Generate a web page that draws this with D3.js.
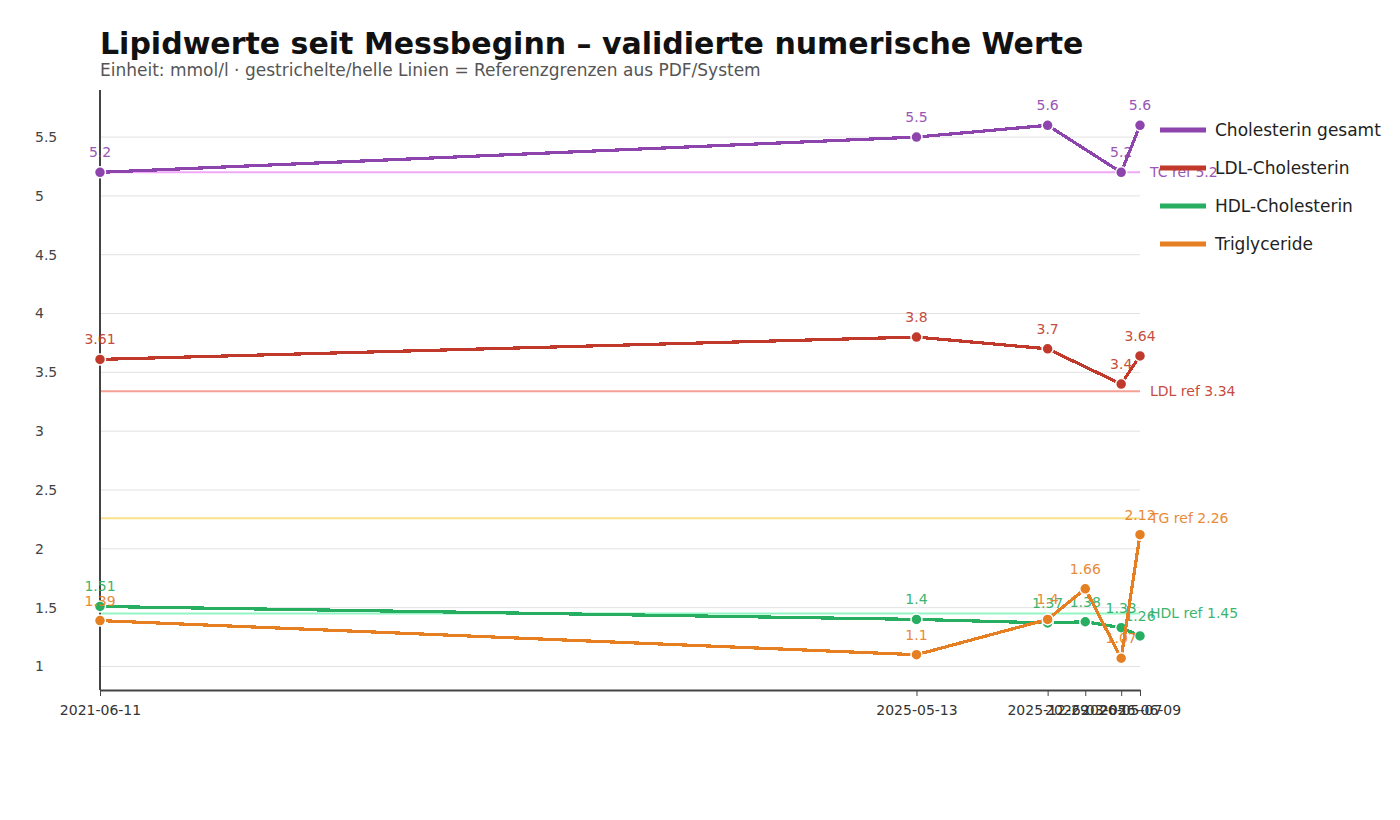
<!DOCTYPE html>
<html>
<head>
<meta charset="utf-8">
<script src="https://cdn.jsdelivr.net/npm/d3@7"></script>
<style>
  body { margin: 0; background: #fff; font-family: "DejaVu Sans", sans-serif; }
</style>
</head>
<body>
<script>
const width = 1400;
const height = 820;
const margin = { top: 90, left: 100, right: 260, bottom: 130 };
const board = {
  width: width - (margin.left + margin.right),
  height: height - (margin.top + margin.bottom),
};

// data
const dates = ['2021-06-11', '2025-05-13', '2025-12-29', '2026-03-05', '2026-05-07', '2026-06-09'];
const seriesNames = ['Cholesterin gesamt', 'LDL-Cholesterin', 'HDL-Cholesterin', 'Triglyceride'];
const tcValues = [5.2, 5.5, 5.6, null, 5.2, 5.6];
const ldlValues = [3.61, 3.8, 3.7, null, 3.4, 3.64];
const hdlValues = [1.51, 1.4, 1.37, 1.38, 1.33, 1.26];
const tgValues = [1.39, 1.1, 1.4, 1.66, 1.07, 2.12];
const refLabels = ['TC ref 5.2', 'LDL ref 3.34', 'HDL ref 1.45', 'TG ref 2.26'];
const refValues = [5.2, 3.34, 1.45, 2.26];
const yTicks = [1, 1.5, 2, 2.5, 3, 3.5, 4, 4.5, 5, 5.5];

const colors = ['#8e44ad', '#c0392b', '#27ae60', '#e67e22'];
const refColors = ['#f0a8f7', '#f5a096', '#93f5c6', '#f9e08a'];

const parse = d3.timeParse('%Y-%m-%d');
const series = [tcValues, ldlValues, hdlValues, tgValues].map((vals, k) => ({
  name: seriesNames[k],
  color: colors[k],
  points: vals.map((v, i) => ({ date: parse(dates[i]), value: v })).filter(p => p.value !== null),
}));

const svg = d3.select('body')
  .append('svg')
    .attr('width', width)
    .attr('height', height);

svg.append('text')
  .attr('x', margin.left)
  .attr('y', 54)
  .attr('font-size', 30)
  .attr('font-weight', 'bold')
  .attr('fill', '#111')
  .text('Lipidwerte seit Messbeginn – validierte numerische Werte');

svg.append('text')
  .attr('x', margin.left)
  .attr('y', 76)
  .attr('font-size', 17)
  .attr('fill', '#555')
  .text('Einheit: mmol/l · gestrichelte/helle Linien = Referenzgrenzen aus PDF/System');

const g = svg.append('g')
  .attr('transform', `translate(${margin.left}, ${margin.top})`);

const x = d3.scaleTime()
  .domain(d3.extent(dates, parse))
  .range([0, board.width]);

const y = d3.scaleLinear()
  .domain([0.8, 5.9])
  .range([board.height, 0]);

// grid
g.append('g')
  .selectAll('line')
  .data(yTicks)
  .enter()
    .append('line')
    .attr('x1', 0)
    .attr('x2', board.width)
    .attr('y1', d => y(d))
    .attr('y2', d => y(d))
    .attr('stroke', '#e2e2e2')
    .attr('stroke-width', 1);

// y tick labels
g.append('g')
  .selectAll('text')
  .data(yTicks)
  .enter()
    .append('text')
    .attr('x', -65)
    .attr('y', d => y(d))
    .attr('dy', '0.35em')
    .attr('font-size', 14)
    .attr('fill', '#444')
    .text(d => d);

// reference lines
const refs = g.append('g')
  .selectAll('g')
  .data(refValues)
  .enter()
    .append('g');

refs.append('line')
  .attr('x1', 0)
  .attr('x2', board.width)
  .attr('y1', d => y(d))
  .attr('y2', d => y(d))
  .attr('stroke', (d, i) => refColors[i])
  .attr('stroke-width', 2);

refs.append('text')
  .attr('x', board.width + 10)
  .attr('y', d => y(d))
  .attr('dy', '0.35em')
  .attr('font-size', 14)
  .attr('fill', (d, i) => colors[i])
  .attr('opacity', 0.9)
  .text((d, i) => refLabels[i]);

// axes
const xAxis = d3.axisBottom(x)
  .tickValues(dates.map(parse))
  .tickFormat(d3.timeFormat('%Y-%m-%d'))
  .tickSizeInner(6)
  .tickSizeOuter(0)
  .tickPadding(9);

const xg = g.append('g')
  .attr('transform', `translate(0, ${board.height})`)
  .call(xAxis);
xg.select('.domain').attr('stroke', '#444').attr('stroke-width', 2);
xg.selectAll('.tick line').attr('stroke', '#444');
xg.selectAll('.tick text')
  .attr('font-family', '"DejaVu Sans", sans-serif')
  .attr('font-size', 14)
  .attr('fill', '#333');

g.append('line')
  .attr('x1', 0)
  .attr('x2', 0)
  .attr('y1', 0)
  .attr('y2', board.height)
  .attr('stroke', '#444')
  .attr('stroke-width', 2);

// series
const line = d3.line()
  .x(d => x(d.date))
  .y(d => y(d.value));

const lines = g.append('g')
  .selectAll('g')
  .data(series)
  .enter()
    .append('g');

lines.append('path')
  .attr('d', d => line(d.points))
  .attr('fill', 'none')
  .attr('stroke', d => d.color)
  .attr('stroke-width', 3.2)
  .attr('shape-rendering', 'crispEdges');

lines.selectAll('circle')
  .data(d => d.points.map(p => ({ ...p, color: d.color })))
  .enter()
    .append('circle')
    .attr('cx', d => x(d.date))
    .attr('cy', d => y(d.value))
    .attr('r', 5.5)
    .attr('fill', d => d.color)
    .attr('stroke', '#fff')
    .attr('stroke-width', 1.5);

lines.selectAll('text')
  .data(d => d.points.map(p => ({ ...p, color: d.color })))
  .enter()
    .append('text')
    .attr('x', d => x(d.date))
    .attr('y', d => y(d.value) - 15)
    .attr('text-anchor', 'middle')
    .attr('font-size', 14)
    .attr('fill', d => d.color)
    .attr('opacity', 0.9)
    .text(d => d.value);

// legend
const legend = svg.append('g')
  .attr('transform', 'translate(1160, 130)')
  .selectAll('g')
  .data(series)
  .enter()
    .append('g')
    .attr('transform', (d, i) => `translate(0, ${i * 38})`);

legend.append('line')
  .attr('x1', 0)
  .attr('x2', 46)
  .attr('stroke', d => d.color)
  .attr('stroke-width', 5);

legend.append('text')
  .attr('x', 55)
  .attr('dy', '0.35em')
  .attr('font-size', 17)
  .attr('fill', '#222')
  .text(d => d.name);
</script>
</body>
</html>
